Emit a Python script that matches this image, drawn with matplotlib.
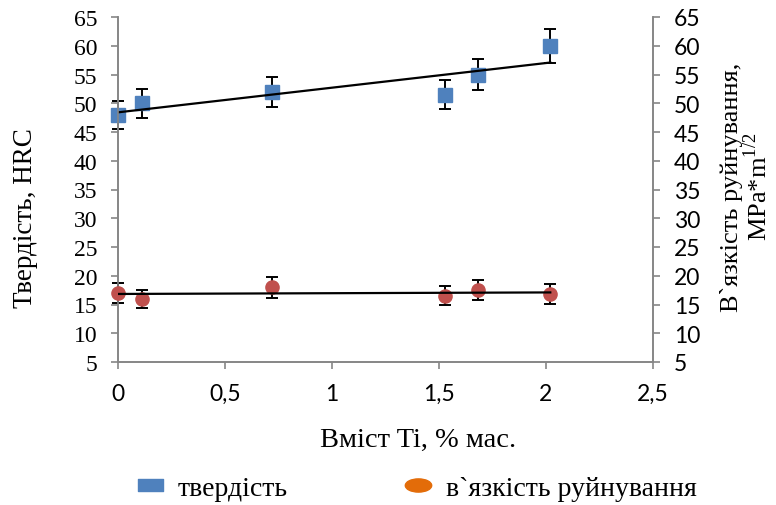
import numpy as np
from matplotlib import pyplot as plt
from matplotlib.lines import Line2D
from matplotlib.path import Path
from matplotlib.transforms import Affine2D

# Data
ti = [0, 0.11, 0.72, 1.53, 1.68, 2.02]
hardness = [48, 50, 52, 51.5, 55, 60]
toughness = [17, 16, 18, 16.5, 17.5, 16.8]
hard_err = [v * 0.05 for v in hardness]
tough_err = [v * 0.10 for v in toughness]
y_ticks = list(range(5, 70, 5))
x_ticks = [0, 0.5, 1, 1.5, 2, 2.5]
x_tick_labels = ['0', '0,5', '1', '1,5', '2', '2,5']

BLUE = '#4F81BD'
RED = '#C0504D'
ORANGE = '#E36C09'
GREY = '#868686'
SERIF = 'Liberation Serif'
SANS = 'Lato'

W, H = 776, 506
fig = plt.figure(figsize=(W / 100, H / 100), dpi=100)
ax = fig.add_axes([118 / W, 1 - 363 / H, 535 / W, 345 / H])
ax2 = ax.twinx()

# error bars + markers
ax.errorbar(ti, hardness, yerr=hard_err, fmt='none', ecolor='black',
            elinewidth=1.4, capsize=4, capthick=1.4, zorder=2, clip_on=False)
ax.plot(ti, hardness, 's', color=BLUE, markersize=9.5, zorder=3, clip_on=False)
ax2.errorbar(ti, toughness, yerr=tough_err, fmt='none', ecolor='black',
             elinewidth=1.4, capsize=4, capthick=1.4, zorder=2, clip_on=False)
ax2.plot(ti, toughness, 'o', color=RED, markersize=9.5, zorder=3, clip_on=False)

# linear trendlines
for a, vals in ((ax, hardness), (ax2, toughness)):
    k, b = np.polyfit(ti, vals, 1)
    xs = np.array([min(ti), max(ti)])
    a.plot(xs, k * xs + b, color='black', lw=1.6, zorder=4)

for a in (ax, ax2):
    a.set_ylim(5, 65)
    a.set_yticks(y_ticks)
    a.set_xlim(0, 2.5)
    for s in a.spines.values():
        s.set_color(GREY)
        s.set_linewidth(1.2)
    a.spines['top'].set_visible(False)
    a.tick_params(axis='both', colors=GREY, length=5, width=1.2,
                  labelcolor='black', pad=10)

ax.set_yticks(y_ticks)
ax.set_yticklabels([str(v) for v in y_ticks], family=SERIF, fontsize=17)
ax2.set_yticklabels([str(v) for v in y_ticks], family=SANS, fontsize=16.5)
ax.set_xticks(x_ticks)
ax.set_xticklabels(x_tick_labels, family=SANS, fontsize=16.5)

fig.text(26 / W, 1 - 218 / H, 'Твердість, HRC', family=SERIF, fontsize=19.5,
         rotation=90, ha='center', va='center')
fig.text(418 / W, 1 - 440 / H, 'Вміст Ti, % мас.', family=SERIF, fontsize=20.5,
         ha='center', va='center')
fig.text(746 / W, 1 - 187 / H, 'В`язкість руйнування,\nMPa*m$^{\\mathregular{1/2}}$',
         family=SERIF, fontsize=19, rotation=90, ha='center', va='center',
         multialignment='center', linespacing=1.05)

rect = Path([(-1, -0.5), (1, -0.5), (1, 0.5), (-1, 0.5), (-1, -0.5)],
            [Path.MOVETO, Path.LINETO, Path.LINETO, Path.LINETO, Path.CLOSEPOLY])
ellipse = Path.unit_circle().transformed(Affine2D().scale(1, 0.5))
handles = [Line2D([], [], ls='none', marker=rect, color=BLUE, markersize=18),
           Line2D([], [], ls='none', marker=ellipse, color=ORANGE, markersize=19)]
fig.legend(handles, ['твердість', 'в`язкість руйнування'], loc='center left',
           bbox_to_anchor=(111 / W, 1 - 489 / H), ncol=2, frameon=False,
           prop={'family': SERIF, 'size': 20}, columnspacing=4.2,
           handlelength=1.0, handletextpad=0.5)

fig.savefig('out.png', dpi=100)
